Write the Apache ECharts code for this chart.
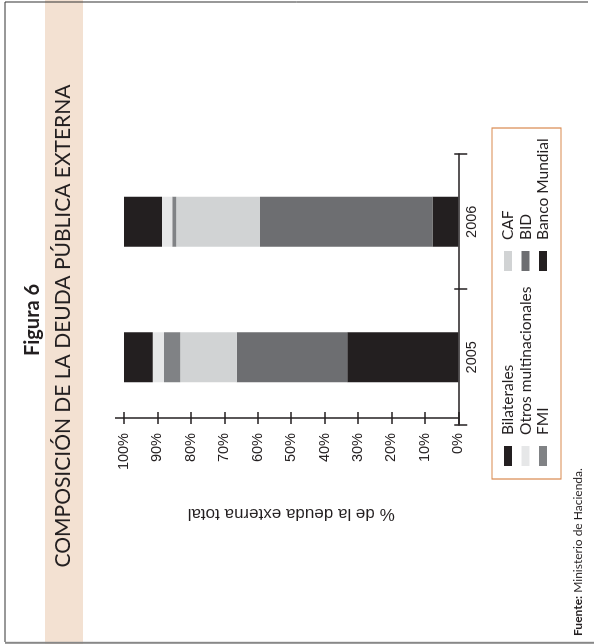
<!DOCTYPE html>
<html>
<head>
<meta charset="utf-8">
<script src="https://cdn.jsdelivr.net/npm/echarts/dist/echarts.min.js"></script>
<style>
html,body{margin:0;padding:0;width:594px;height:644px;overflow:hidden;background:#fff;}
#wrap{position:absolute;left:0;top:0;width:644px;height:594px;transform-origin:0 0;transform:translateY(644px) rotate(-90deg);}
</style>
</head>
<body>
<div id="wrap"></div>
<script>
// Data (percent of total external debt)
const categories = ['2005', '2006'];
const bancoMundial = [33.2, 7.7];
const bid = [33.1, 51.6];
const caf = [16.9, 25.1];
const fmi = [4.8, 1.2];
const otrosMultinacionales = [3.4, 3.0];
const bilaterales = [8.6, 11.4];
const seriesNames = ['Banco Mundial', 'BID', 'CAF', 'FMI', 'Otros multinacionales', 'Bilaterales'];
const seriesColors = ['#231f20', '#6d6e71', '#d1d3d4', '#808285', '#e6e7e8', '#231f20'];
const seriesValues = [bancoMundial, bid, caf, fmi, otrosMultinacionales, bilaterales];
const legendLeftCol = ['Bilaterales', 'Otros multinacionales', 'FMI'];
const legendRightCol = ['CAF', 'BID', 'Banco Mundial'];
const figureLabel = 'Figura 6';
const titleText = 'COMPOSICIÓN DE LA DEUDA PÚBLICA EXTERNA';
const axisTitle = '% de la deuda externa total';

const ink = '#231f20';
const gill = 'Lato, "Open Sans", sans-serif';
const helv = '"Liberation Sans", Arial, sans-serif';

const chart = echarts.init(document.getElementById('wrap'), null, {renderer: 'canvas'});

const series = seriesNames.map((n, i) => ({
  name: n,
  type: 'bar',
  stack: 'total',
  barWidth: 50,
  data: seriesValues[i],
  itemStyle: {color: seriesColors[i]},
  emphasis: {disabled: true},
  xAxisIndex: 0,
  yAxisIndex: 0
}));

const legendCommon = {
  orient: 'vertical',
  icon: 'rect',
  itemWidth: 20,
  itemHeight: 8,
  itemGap: 1.5,
  selectedMode: false,
  padding: 0,
  textStyle: {fontFamily: gill, fontSize: 15.5, color: ink, lineHeight: 16, padding: [0, 0, 0, 6]}
};

chart.setOption({
  animation: false,
  backgroundColor: '#ffffff',
  grid: {left: 219, right: 154, top: 124, bottom: 135.7, containLabel: false},
  legend: [
    Object.assign({}, legendCommon, {left: 178, top: 500, data: legendLeftCol}),
    Object.assign({}, legendCommon, {left: 373, top: 500, data: legendRightCol})
  ],
  xAxis: [
    {
      type: 'category',
      data: categories,
      position: 'bottom',
      axisLine: {lineStyle: {color: ink, width: 1.5}},
      axisTick: {show: true, length: 9, lineStyle: {color: ink, width: 1.5}},
      axisLabel: {fontFamily: helv, fontSize: 14.5, color: ink, margin: 6}
    },
    {
      type: 'category',
      data: categories,
      position: 'bottom',
      axisLine: {show: false},
      axisTick: {show: true, inside: true, length: 4, lineStyle: {color: ink, width: 1.5}},
      axisLabel: {show: false}
    }
  ],
  yAxis: [
    {
      type: 'value',
      position: 'left',
      min: 0, max: 100, interval: 10,
      offset: -7,
      splitLine: {show: false},
      axisLine: {show: true, lineStyle: {color: ink, width: 1.5}},
      axisTick: {show: true, length: 6, lineStyle: {color: ink, width: 1.5}},
      axisLabel: {formatter: '{value}%', fontFamily: helv, fontSize: 14.5, color: ink, margin: 15},
      name: axisTitle,
      nameLocation: 'middle',
      nameRotate: 90,
      nameGap: 87,
      nameTextStyle: {fontFamily: helv, fontSize: 17, color: ink}
    },
    {
      type: 'value',
      position: 'left',
      min: 0, max: 100, interval: 10,
      offset: -7,
      splitLine: {show: false},
      axisLine: {show: false},
      axisTick: {show: true, inside: true, length: 6, lineStyle: {color: ink, width: 1.5}},
      axisLabel: {show: false}
    }
  ],
  series: series,
  graphic: [
    {type: 'rect', z: -10, silent: true, shape: {x: 0, y: 45, width: 644, height: 38}, style: {fill: '#f3e1d2'}},
    {type: 'line', silent: true, shape: {x1: 2, y1: 5, x2: 642, y2: 5}, style: {stroke: '#333', lineWidth: 1}},
    {type: 'line', silent: true, shape: {x1: 1.2, y1: 5, x2: 1.2, y2: 594}, style: {stroke: '#888', lineWidth: 2}},
    {type: 'line', silent: true, shape: {x1: 642, y1: 5, x2: 642, y2: 588}, style: {stroke: '#333', lineWidth: 1}},
    {type: 'line', silent: true, shape: {x1: 226, y1: 115, x2: 226, y2: 124}, style: {stroke: ink, lineWidth: 1.5}},
    {type: 'text', silent: true, style: {text: figureLabel, x: 324, y: 33, align: 'center', verticalAlign: 'middle', fontFamily: gill, fontWeight: 'bold', fontSize: 20, fill: ink}},
    {type: 'text', silent: true, style: {text: titleText, x: 318, y: 63, align: 'center', verticalAlign: 'middle', fontFamily: gill, fontSize: 21, fill: ink}},
    {type: 'rect', silent: true, shape: {x: 165, y: 492, width: 351, height: 69}, style: {fill: 'none', stroke: '#d9894f', lineWidth: 1.2}},
    {type: 'text', silent: true, style: {
      text: '{b|Fuente:} Ministerio de Hacienda.', x: 8, y: 578, align: 'left', verticalAlign: 'middle',
      fontFamily: gill, fontSize: 12, fill: ink,
      rich: {b: {fontFamily: gill, fontSize: 12, fontWeight: 'bold', fill: ink}}
    }}
  ]
});
</script>
</body>
</html>
